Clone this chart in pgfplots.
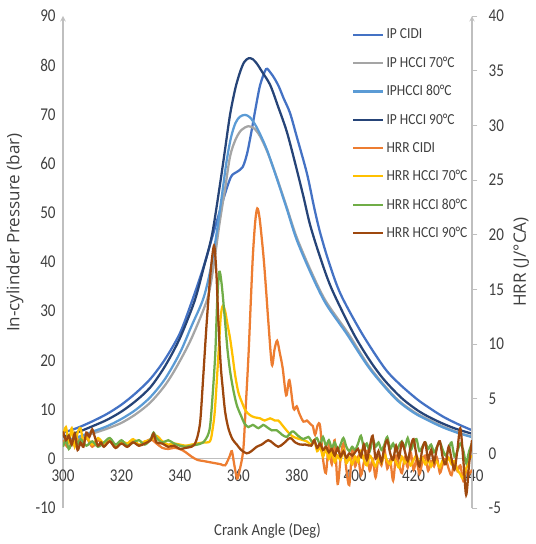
\documentclass[border=0pt]{standalone}
\usepackage{fontspec}
\setmainfont{Carlito}[FakeStretch=0.88]
\newfontfamily\tickfont{Carlito}[FakeStretch=0.84]
\newfontfamily\titlefont{Open Sans}
\usepackage{pgfplots}
\pgfplotsset{compat=1.18}
\usetikzlibrary{calc}
\definecolor{ipcidi}{HTML}{4472C4}
\definecolor{ip70}{HTML}{A5A5A5}
\definecolor{ip80}{HTML}{5B9BD5}
\definecolor{ip90}{HTML}{264478}
\definecolor{hcidi}{HTML}{ED7D31}
\definecolor{h70}{HTML}{FFC000}
\definecolor{h80}{HTML}{70AD47}
\definecolor{h90}{HTML}{9E480E}
\definecolor{axisgray}{HTML}{BFBFBF}
\definecolor{textgray}{HTML}{404040}
\pgfplotsset{
  common/.style={
    scale only axis, width=306.75pt, height=369pt,
    xmin=300, xmax=440,
    axis line style={draw=axisgray, line width=0.8pt, -},
    tick label style={font=\tickfont\fontsize{13.5}{15}\selectfont, text=textgray},
    /pgf/number format/assume math mode=true,
    every axis plot/.append style={line width=1.7pt, smooth, tension=0.5, mark=none},
  }
}
\begin{document}
\begin{tikzpicture}
\begin{axis}[common,
  ymin=-10, ymax=90,
  xtick={300,320,...,440}, ytick={-10,0,...,90},
  axis y line=left, axis x line=middle,
  hide obscured x ticks=false,
  major tick length=0pt,
  xticklabel style={anchor=north, yshift=-4.5pt},
  yticklabel style={xshift=-2pt},
  xlabel={Crank Angle (Deg)},
  ylabel={In-cylinder Pressure (bar)},
  every axis x label/.style={at={(axis description cs:0.5,0)}, anchor=north, yshift=-8pt,
    font=\fontsize{12.5}{14}\selectfont, text=textgray},
  every axis y label/.style={at={(axis description cs:0,0.56)}, rotate=90, anchor=center, yshift=36pt,
    font=\titlefont\fontsize{12.8}{14}\selectfont, text=textgray},
]
\coordinate (BL) at (rel axis cs:0,0);
\coordinate (TR) at (rel axis cs:1,1);
% IP CIDI
\addplot[ipcidi] coordinates {(300,5.3)(305,6.3)(310,7.6)(315,9.1)(320,11.0)(325,13.4)(330,16.3)(335,20.3)(340,25.5)(344,31.8)(348,38.8)(351.5,45.9)(355,53)(357.5,57.3)(359.5,58.3)(361.5,59.3)(363,62)(364.5,66.5)(366,71.5)(367.5,76)(369.5,79.2)(371,78.5)(372.5,77.2)(374,75.5)(375.5,73.3)(377.7,70.3)(380,65.5)(383.5,58)(386,51)(388,46)(391,40)(395,33.5)(402.3,25.5)(410,18.5)(415,15.3)(421,12.2)(425,10.5)(430,8.6)(435,7.1)(440,5.8)};
% IP HCCI 70
\addplot[ip70] coordinates {(300,3.3)(305,4.1)(310,5.1)(315,6.1)(320,7.3)(325,9.1)(330,11.5)(335,15.0)(339,18.8)(344,24.5)(349.4,32.5)(351.5,39)(353.5,47.5)(355.5,55)(357.2,61.5)(359,64.8)(361,66.8)(363.5,67.6)(365.5,67.1)(367.5,65.5)(370,62.3)(373,57.5)(376.5,51.3)(380,45)(385,38)(390,32)(397.6,25.5)(405,18.6)(413.7,12.5)(420,9.6)(425,8.0)(430,6.6)(435,5.4)(440,4.5)};
% IPHCCI 80
\addplot[ip80] coordinates {(300,3.6)(305,4.4)(310,5.5)(315,6.6)(320,8.1)(325,10.0)(330,12.6)(335,16.3)(340,21.5)(344,27)(348,32.5)(350.5,38.5)(352.6,45.9)(354.5,54)(356,60.5)(357.5,65.3)(359,68.2)(360.5,69.5)(362.3,69.9)(364,69.4)(366,67.7)(368,65.3)(370,62.5)(373,57.3)(376.5,51)(380,44.5)(385,37.5)(390,31.5)(397,25.5)(405,18.3)(413.7,12.3)(420,9.4)(425,7.8)(430,6.4)(435,5.3)(440,4.4)};
% IP HCCI 90
\addplot[ip90] coordinates {(300,4.5)(305,5.4)(310,6.6)(315,7.9)(320,9.6)(325,11.8)(330,14.6)(335,18.9)(340,24.5)(345,32)(348,38.5)(351,45.5)(353.8,56)(355.5,63)(357.2,70)(359,75.3)(360.6,78.6)(362,80.6)(363.5,81.4)(365,81.2)(366.5,80.2)(368,78.8)(370.9,76.0)(373.5,71.8)(376.6,66.5)(379.5,60)(382.3,53.3)(384.6,47.5)(388,41)(392,34.5)(399.4,25.5)(405,20)(410,16)(416,12.3)(422,9.6)(428,7.7)(434,6.2)(440,5.1)};
\end{axis}
\begin{axis}[common,
  ymin=-5, ymax=40, ytick={-5,0,...,40},
  axis y line=right, axis x line=none,
  major tick length=4pt, tick align=outside,
  tick style={draw=axisgray, line width=0.6pt},
  yticklabel style={xshift=5pt},
  ylabel={HRR (J/°CA)},
  every axis y label/.style={at={(axis description cs:1,0.5)}, rotate=90, anchor=center, yshift=-37pt,
    font=\titlefont\fontsize{12.8}{14}\selectfont, text=textgray},
  legend style={draw=none, fill=none, at={(rel axis cs:0.707,0.98)}, anchor=north west,
    font=\fontsize{11.5}{13}\selectfont, text=textgray, row sep=8pt, inner sep=0pt},
  legend cell align=left,
  legend image code/.code={\draw[#1, line width=1.6pt] (0pt,0pt) -- (22pt,0pt);},
]
\addlegendimage{ipcidi}\addlegendentry{IP CIDI}
\addlegendimage{ip70}\addlegendentry{IP HCCI 70°C}
\addlegendimage{ip80}\addlegendentry{IPHCCI 80°C}
\addlegendimage{ip90}\addlegendentry{IP HCCI 90°C}
% HRR CIDI
\addplot[hcidi] coordinates {(300,1.2)(302,0.5)(304,1.6)(306,0.8)(308,1.4)(310,0.6)(312,1.2)(314,0.7)(316,1.1)(318,0.5)(320,1.0)(322,0.6)(324,1.2)(326,0.7)(328,1.0)(330,1.3)(332,0.9)(334,0.5)(336,0.4)(338,0.5)(340,0.4)(342,0.1)(344,-0.3)(346,-0.6)(348,-0.7)(350,-0.8)(352,-0.9)(354,-1.0)(355.5,-1.1)(357,-0.3)(357.8,0.2)(358.6,-1.0)(359.6,-2.3)(360.5,-1.5)(361.7,0.3)(362.5,4)(363.5,9)(364.3,14)(365,18.1)(365.8,21.2)(366.5,22.4)(367.3,21.5)(368.6,18.1)(369.5,15)(370.3,12)(371.5,8.1)(372.4,9.5)(373.3,10.3)(374.2,9.2)(375.2,7.8)(376.4,5.3)(377.5,6.7)(378.9,4.1)(380,4.3)(380.8,3.7)(382.3,2.9)(383.5,3.0)(384.6,2.7)(385.5,2.5)(386.3,1.7)(387.2,2.6)(388,2.5)(389,-0.5)(390,-1.8)(391,0.8)(392,-1.0)(393,1.2)(394,-2.8)(395,-0.5)(396,0.9)(397,-1.5)(398,-2.9)(399,0.3)(400,-1.2)(401,-0.3)(402,-2.0)(403,-0.8)(404,0.2)(405,-1.6)(406,-0.5)(407,-2.2)(408,-0.4)(409,-1.1)(410,0.4)(411,-1.4)(412,-0.6)(413,-2.5)(414,-0.2)(415,-1.0)(416,-1.8)(417,-0.4)(418,-1.3)(419,0.1)(420,-1.5)(421,-0.6)(422,-1.9)(423,-0.8)(424,-0.2)(425,-1.6)(426,-0.7)(427,-1.2)(428,-0.4)(429,-1.8)(430,-1.0)(431,-0.5)(432,-1.4)(433,-2.0)(434,-0.8)(435,-1.6)(436,-1.1)(437,-2.5)(438,-1.6)(439,-1.9)(440,-1.5)};
\addlegendentry{HRR CIDI}
% HRR HCCI 70
\addplot[h70] coordinates {(300,1.6)(301,2.4)(302,1.0)(303,2.3)(304,0.6)(305,1.9)(306,2.3)(307,1.0)(308,1.5)(310,0.8)(312,1.4)(314,0.9)(316,1.2)(318,0.7)(320,1.1)(322,0.9)(324,1.3)(326,0.8)(328,1.1)(330,1.2)(332,1.6)(334,1.1)(336,0.8)(338,0.9)(340,0.8)(342,0.7)(344,0.8)(346,0.9)(348,1.0)(350.3,1.1)(351.2,2.2)(352,4.0)(353.2,9)(354,12.5)(354.7,13.5)(355.5,13.0)(356.3,11.8)(357.2,10.5)(358.1,8.8)(358.9,7.2)(360,5.6)(361.2,4.7)(362.5,3.9)(364,3.5)(365.5,3.3)(367.5,3.2)(369,3.0)(370.9,3.2)(372.5,3.0)(373.7,3.0)(375,2.6)(375.9,2.3)(377.5,1.8)(378.9,1.5)(381,1.3)(383.4,1.1)(385,0.8)(386,1.2)(387,0.2)(388,0.6)(389,-0.3)(390,0.4)(391,-0.5)(392,0.1)(393,-0.8)(394,-0.2)(395,-0.6)(396,0.3)(397,-0.9)(398,-0.4)(399,-1.0)(400,-0.3)(401,-0.8)(402,0.2)(403,-0.6)(404,-1.1)(405,-0.2)(406,-0.7)(407,-1.2)(408,-0.5)(409,-0.9)(410,-0.1)(411,-0.7)(412,-1.0)(413,-0.4)(414,-0.8)(415,-1.3)(416,-0.3)(417,-0.9)(418,-0.5)(419,-1.1)(420,-0.6)(421,-0.2)(422,-0.9)(423,-0.4)(424,-1.0)(425,-0.6)(426,-1.2)(427,-0.5)(428,-0.8)(429,-1.3)(430,-0.6)(431,-0.9)(432,-0.4)(433,-1.0)(434,-0.7)(435,-1.5)(436,-1.9)(437,-2.3)(438,-1.4)(439,-0.6)(440,-0.2)};
\addlegendentry{HRR HCCI 70°C}
% HRR HCCI 80
\addplot[h80] coordinates {(300,0.6)(301,1.2)(302,0.4)(303,1.0)(304,1.5)(305,0.8)(306,1.3)(308,0.7)(310,1.1)(312,0.6)(314,1.0)(316,1.4)(318,0.8)(320,1.2)(322,0.7)(324,1.0)(326,1.2)(328,0.8)(330,1.3)(331,1.9)(332,1.4)(334,1.0)(336,1.2)(338,0.9)(340,0.7)(342,0.6)(344,0.7)(346,0.8)(348,1.0)(349.5,1.6)(350.3,2.4)(351,4.5)(352.1,9)(352.8,14)(353.5,16.6)(354.3,15.5)(355.5,12)(356.3,9.5)(357.2,7.5)(358.3,5.8)(359.5,4.4)(361,3.4)(362.2,2.7)(363.5,2.4)(365,2.6)(366.9,2.3)(368.5,2.6)(369.8,2.4)(371.5,2.1)(373.2,2.1)(375,1.7)(376.6,1.5)(378,1.9)(378.9,2.0)(380.5,1.6)(382.3,1.3)(384,1.5)(385.5,1.0)(386.9,1.4)(388,0.8)(389,1.5)(390,0.7)(391,1.2)(392,0.5)(393,1.0)(394,0.3)(395,0.8)(396,1.4)(397,0.6)(398,0.2)(399,0.6)(400,0.3)(401,0.9)(402,1.6)(403,0.5)(404,0.9)(405,0.2)(406,1.3)(407,0.6)(408,1.0)(409,0.3)(410,0.8)(411,1.5)(412,0.4)(413,0.9)(414,0.2)(415,0.7)(416,1.1)(417,0.5)(418,1.4)(419,0.3)(420,0.9)(421,1.3)(422,0.2)(423,0.6)(424,1.0)(425,0.4)(426,0.8)(427,0.1)(428,0.6)(429,1.0)(430,0.3)(431,-0.2)(432,0.4)(433,1.0)(434,-0.3)(435,0.2)(436,0.9)(437,0.3)(438,-0.9)(439,0.2)(440,0.9)};
\addlegendentry{HRR HCCI 80°C}
% HRR HCCI 90
\addplot[h90] coordinates {(300,2.0)(301,1.2)(302,1.6)(303,0.8)(304,1.8)(305,0.3)(306,1.0)(307,0.6)(308,1.9)(309,1.5)(310,2.2)(311,1.4)(312,0.7)(313,1.0)(314,0.6)(316,1.1)(318,0.5)(320,0.9)(322,0.6)(324,1.0)(326,0.7)(328,0.9)(330,1.2)(331,1.8)(332,1.0)(334,0.9)(336,0.6)(338,0.7)(340,0.4)(342,0.5)(344,0.6)(345,0.8)(346,1.5)(347,3.0)(348,7)(349.2,12)(350.5,16.5)(351.7,19)(352.5,16.5)(353.2,12)(354,8)(354.7,5.9)(355.5,3.8)(356.6,2.3)(358,1.3)(359.5,0.8)(361,0.3)(362.9,0.0)(364.5,0.2)(366.3,0.6)(368,0.8)(370.3,1.2)(372,0.9)(373.7,0.6)(375.5,0.9)(377.7,1.4)(379.5,1.0)(381.2,0.8)(383,0.8)(385,0.7)(386,1.2)(387,0.5)(388,0.9)(389,0.3)(390,0.6)(391,0.1)(392,0.4)(393,-0.2)(394,0.5)(395,-0.3)(396,0.2)(397,-0.4)(398,0.0)(399,-0.2)(400,0.1)(401,0.4)(402,-0.3)(403,0.8)(404,-0.6)(405,0.6)(406,1.6)(407,-0.5)(408,0.2)(409,-0.8)(410,0.5)(411,1.2)(412,0.0)(413,-0.6)(414,0.7)(415,-0.4)(416,1.0)(417,0.2)(418,-0.7)(419,0.6)(420,1.3)(421,-0.2)(422,-1.2)(423,0.4)(424,1.0)(425,-0.6)(426,0.3)(427,-0.8)(428,0.5)(429,1.1)(430,-0.4)(431,-1.0)(432,0.6)(433,-0.5)(434,-1.5)(435,0.3)(436,2.3)(437,-0.5)(438,-3.8)(439,-1.0)(440,1.2)};
\addlegendentry{HRR HCCI 90°C}
\end{axis}
\pgfresetboundingbox
\path ($(BL)+(-47.25pt,-27pt)$) rectangle ($(TR)+(48pt,12pt)$);
\end{tikzpicture}
\end{document}
